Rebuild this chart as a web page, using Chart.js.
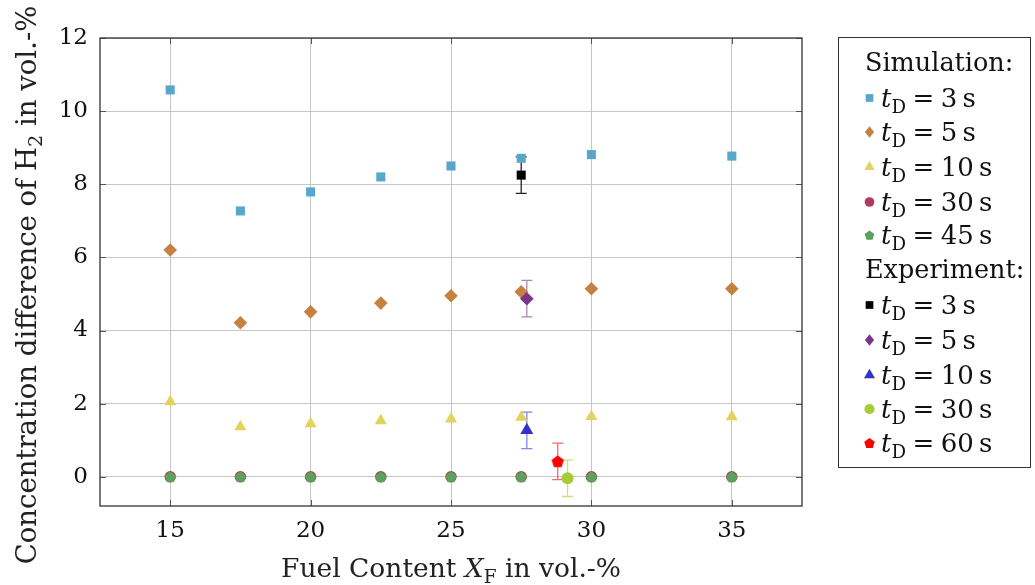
<!DOCTYPE html>
<html lang="en">
  <head>
    <meta charset="UTF-8" />
    <title>H2 concentration difference vs fuel content</title>
    <script src="https://cdn.jsdelivr.net/npm/chart.js"></script>
    <style>
      body { margin: 0; background: #ffffff; }
      .wrap { position: relative; width: 1035px; height: 585px; }
    </style>
  </head>
  <body>
    <div class="wrap">
      <canvas id="h2Chart" width="1035" height="585"></canvas>
    </div>

    <script>
      // simulation: fuel content (vol.-%) and H2 difference per dwell time
      const fuel = [15, 17.5, 20, 22.5, 25, 27.5, 30, 35];
      const sim3 = [10.58, 7.27, 7.79, 8.2, 8.5, 8.71, 8.81, 8.77];
      const sim5 = [6.2, 4.21, 4.51, 4.75, 4.95, 5.06, 5.14, 5.14];
      const sim10 = [2.05, 1.37, 1.45, 1.53, 1.58, 1.63, 1.65, 1.64];
      const sim30 = [0, 0, 0, 0, 0, 0, 0, 0];
      const sim45 = [0, 0, 0, 0, 0, 0, 0, 0];

      // experiment: one point per dwell time, with error
      const expLabels = ["3", "5", "10", "30", "60"];
      const expX = [27.5, 27.7, 27.7, 29.15, 28.8];
      const expY = [8.25, 4.87, 1.27, -0.04, 0.42];
      const expErr = [0.5, 0.5, 0.5, 0.5, 0.5];

      const xTicks = [15, 20, 25, 30, 35];
      const yTicks = [0, 2, 4, 6, 8, 10, 12];

      const FONT = "'DejaVu Serif', serif";

      function pentagon(color, r) {
        const c = document.createElement("canvas");
        const s = Math.ceil(r * 2 + 2);
        c.width = s;
        c.height = s;
        const g = c.getContext("2d");
        g.beginPath();
        for (let i = 0; i < 5; i++) {
          const a = -Math.PI / 2 + (i * 2 * Math.PI) / 5;
          const px = s / 2 + r * Math.cos(a);
          const py = s / 2 + r * Math.sin(a) + 0.5;
          if (i === 0) g.moveTo(px, py);
          else g.lineTo(px, py);
        }
        g.closePath();
        g.fillStyle = color;
        g.fill();
        return c;
      }

      const pts = (ys) => fuel.map((x, i) => ({ x: x, y: ys[i] }));

      function simSet(label, ys, color, style, radius, order) {
        return {
          label: label, group: "sim", data: pts(ys),
          pointStyle: style, pointRadius: radius,
          backgroundColor: color, borderColor: color, borderWidth: 0,
          showLine: false, order: order,
        };
      }
      function expSet(i, color, style, radius) {
        return {
          label: expLabels[i], group: "exp", data: [{ x: expX[i], y: expY[i] }],
          err: expErr[i], errColor: color,
          pointStyle: style, pointRadius: radius,
          backgroundColor: color, borderColor: color, borderWidth: 0,
          showLine: false, order: 0,
        };
      }

      const datasets = [
        simSet("3", sim3, "#56a7c9", "rect", 6.4, 3),
        simSet("5", sim5, "#c4813f", "rectRot", 6.8, 3),
        simSet("10", sim10, "#e2d35d", "triangle", 7, 3),
        simSet("30", sim30, "#ae3a5c", "circle", 5.7, 2),
        simSet("45", sim45, "#5aa35c", pentagon("#5aa35c", 6), 6, 1),
        expSet(0, "#000000", "rect", 6.4),
        expSet(1, "#7b348a", "rectRot", 6.8),
        expSet(2, "#3232cc", "triangle", 7.5),
        expSet(3, "#a6cc33", "circle", 6),
        expSet(4, "#ff0000", pentagon("#ff0000", 6.5), 6.5),
      ];

      // text with italic / subscript parts
      function richWidth(ctx, parts, size) {
        let w = 0;
        parts.forEach((p) => {
          const fs = p.sub ? size * 0.7 : size;
          ctx.font = (p.it ? "italic " : "") + fs + "px " + FONT;
          w += ctx.measureText(p.t).width;
        });
        return w;
      }
      function drawRich(ctx, parts, x, y, size) {
        ctx.textBaseline = "alphabetic";
        ctx.textAlign = "left";
        parts.forEach((p) => {
          const fs = p.sub ? size * 0.7 : size;
          ctx.font = (p.it ? "italic " : "") + fs + "px " + FONT;
          ctx.fillText(p.t, x, y + (p.sub ? size * 0.22 : 0));
          x += ctx.measureText(p.t).width;
        });
      }

      function legendMarker(ctx, ds, x, y) {
        const r = ds.pointRadius * 0.85;
        ctx.fillStyle = ds.backgroundColor;
        ctx.beginPath();
        const st = ds.pointStyle;
        if (st === "rect") {
          const h = r * Math.SQRT1_2;
          ctx.rect(x - h, y - h, 2 * h, 2 * h);
        } else if (st === "rectRot") {
          ctx.moveTo(x, y - r); ctx.lineTo(x + r * 0.8, y);
          ctx.lineTo(x, y + r); ctx.lineTo(x - r * 0.8, y);
        } else if (st === "triangle") {
          ctx.moveTo(x, y - r); ctx.lineTo(x + r * 0.87, y + r * 0.5);
          ctx.lineTo(x - r * 0.87, y + r * 0.5);
        } else if (st === "circle") {
          ctx.arc(x, y, r, 0, Math.PI * 2);
        } else {
          for (let i = 0; i < 5; i++) {
            const a = -Math.PI / 2 + (i * 2 * Math.PI) / 5;
            ctx[i ? "lineTo" : "moveTo"](x + r * Math.cos(a), y + r * Math.sin(a) + 0.5);
          }
        }
        ctx.closePath();
        ctx.fill();
      }

      const framePlugin = {
        id: "frame",
        beforeDatasetsDraw(chart) {
          const { ctx, chartArea: a, scales } = chart;
          ctx.save();
          // inner tick marks
          ctx.strokeStyle = "#555";
          ctx.lineWidth = 1;
          ctx.beginPath();
          xTicks.forEach((v) => {
            const px = Math.round(scales.x.getPixelForValue(v)) + 0.5;
            ctx.moveTo(px, a.bottom); ctx.lineTo(px, a.bottom - 6);
            ctx.moveTo(px, a.top); ctx.lineTo(px, a.top + 6);
          });
          yTicks.forEach((v) => {
            const py = Math.round(scales.y.getPixelForValue(v)) + 0.5;
            ctx.moveTo(a.left, py); ctx.lineTo(a.left + 6, py);
            ctx.moveTo(a.right, py); ctx.lineTo(a.right - 6, py);
          });
          ctx.stroke();
          // frame
          ctx.strokeStyle = "#333";
          ctx.lineWidth = 1.3;
          ctx.strokeRect(a.left, a.top, a.right - a.left, a.bottom - a.top);
          // error bars
          chart.data.datasets.forEach((ds) => {
            if (ds.err === undefined) return;
            const p = ds.data[0];
            const px = scales.x.getPixelForValue(p.x);
            const top = scales.y.getPixelForValue(p.y + ds.err);
            const bot = scales.y.getPixelForValue(p.y - ds.err);
            ctx.strokeStyle = ds.errColor;
            ctx.globalAlpha = ds.errColor === "#000000" ? 0.85 : 0.6;
            ctx.lineWidth = 1.3;
            ctx.beginPath();
            ctx.moveTo(px, top); ctx.lineTo(px, bot);
            ctx.moveTo(px - 5.5, top); ctx.lineTo(px + 5.5, top);
            ctx.moveTo(px - 5.5, bot); ctx.lineTo(px + 5.5, bot);
            ctx.stroke();
          });
          ctx.restore();
        },
        afterDraw(chart) {
          const { ctx, chartArea: a } = chart;
          ctx.save();
          ctx.fillStyle = "#222";
          // x title
          const xt = [
            { t: "Fuel Content " }, { t: "X", it: true }, { t: "F", sub: true }, { t: " in vol.-%" },
          ];
          const xw = richWidth(ctx, xt, 26.5);
          drawRich(ctx, xt, (a.left + a.right) / 2 - xw / 2, 577, 26.5);
          // y title
          const yt = [
            { t: "Concentration difference of H" }, { t: "2", sub: true }, { t: " in vol.-%" },
          ];
          const yw = richWidth(ctx, yt, 27.5);
          ctx.translate(36, 285);
          ctx.rotate(-Math.PI / 2);
          drawRich(ctx, yt, -yw / 2, 0, 27.5);
          ctx.restore();

          // legend
          ctx.save();
          ctx.strokeStyle = "#333";
          ctx.lineWidth = 1;
          ctx.strokeRect(838.5, 37.5, 192, 430);
          ctx.fillStyle = "#111";
          const rowY = [98, 132, 167, 202, 235, 305, 340, 375, 409, 443];
          drawRich(ctx, [{ t: "Simulation:" }], 865, 71, 25.5);
          drawRich(ctx, [{ t: "Experiment:" }], 865, 278, 25.5);
          chart.data.datasets.forEach((ds, i) => {
            const y = rowY[i];
            legendMarker(ctx, ds, 869.5, y);
            ctx.fillStyle = "#111";
            drawRich(ctx, [
              { t: "t", it: true }, { t: "D", sub: true },
              { t: "\u2005=\u2005" + ds.label + "\u2009s" },
            ], 881, y + 9, 26);
          });
          ctx.restore();
        },
      };

      const ctx = document.getElementById("h2Chart").getContext("2d");
      new Chart(ctx, {
        type: "scatter",
        data: { datasets: datasets },
        plugins: [framePlugin],
        options: {
          responsive: false,
          animation: false,
          layout: { padding: { left: 0, right: 233, top: 38, bottom: 0 } },
          plugins: { legend: { display: false }, tooltip: { enabled: false } },
          scales: {
            x: {
              type: "linear", min: 12.5, max: 37.5,
              afterBuildTicks: (s) => { s.ticks = xTicks.map((v) => ({ value: v })); },
              afterFit: (s) => { s.height = 79; },
              grid: { color: "#c6c6c6", lineWidth: 1, drawTicks: false },
              border: { display: false },
              ticks: { padding: 11, color: "#111", font: { family: FONT, size: 23 } },
            },
            y: {
              type: "linear", min: -0.8, max: 12,
              afterBuildTicks: (s) => { s.ticks = yTicks.map((v) => ({ value: v })); },
              afterFit: (s) => { s.width = 100; },
              grid: { color: "#c6c6c6", lineWidth: 1, drawTicks: false },
              border: { display: false },
              ticks: { padding: 12, color: "#111", font: { family: FONT, size: 23 } },
            },
          },
        },
      });
    </script>
  </body>
</html>
